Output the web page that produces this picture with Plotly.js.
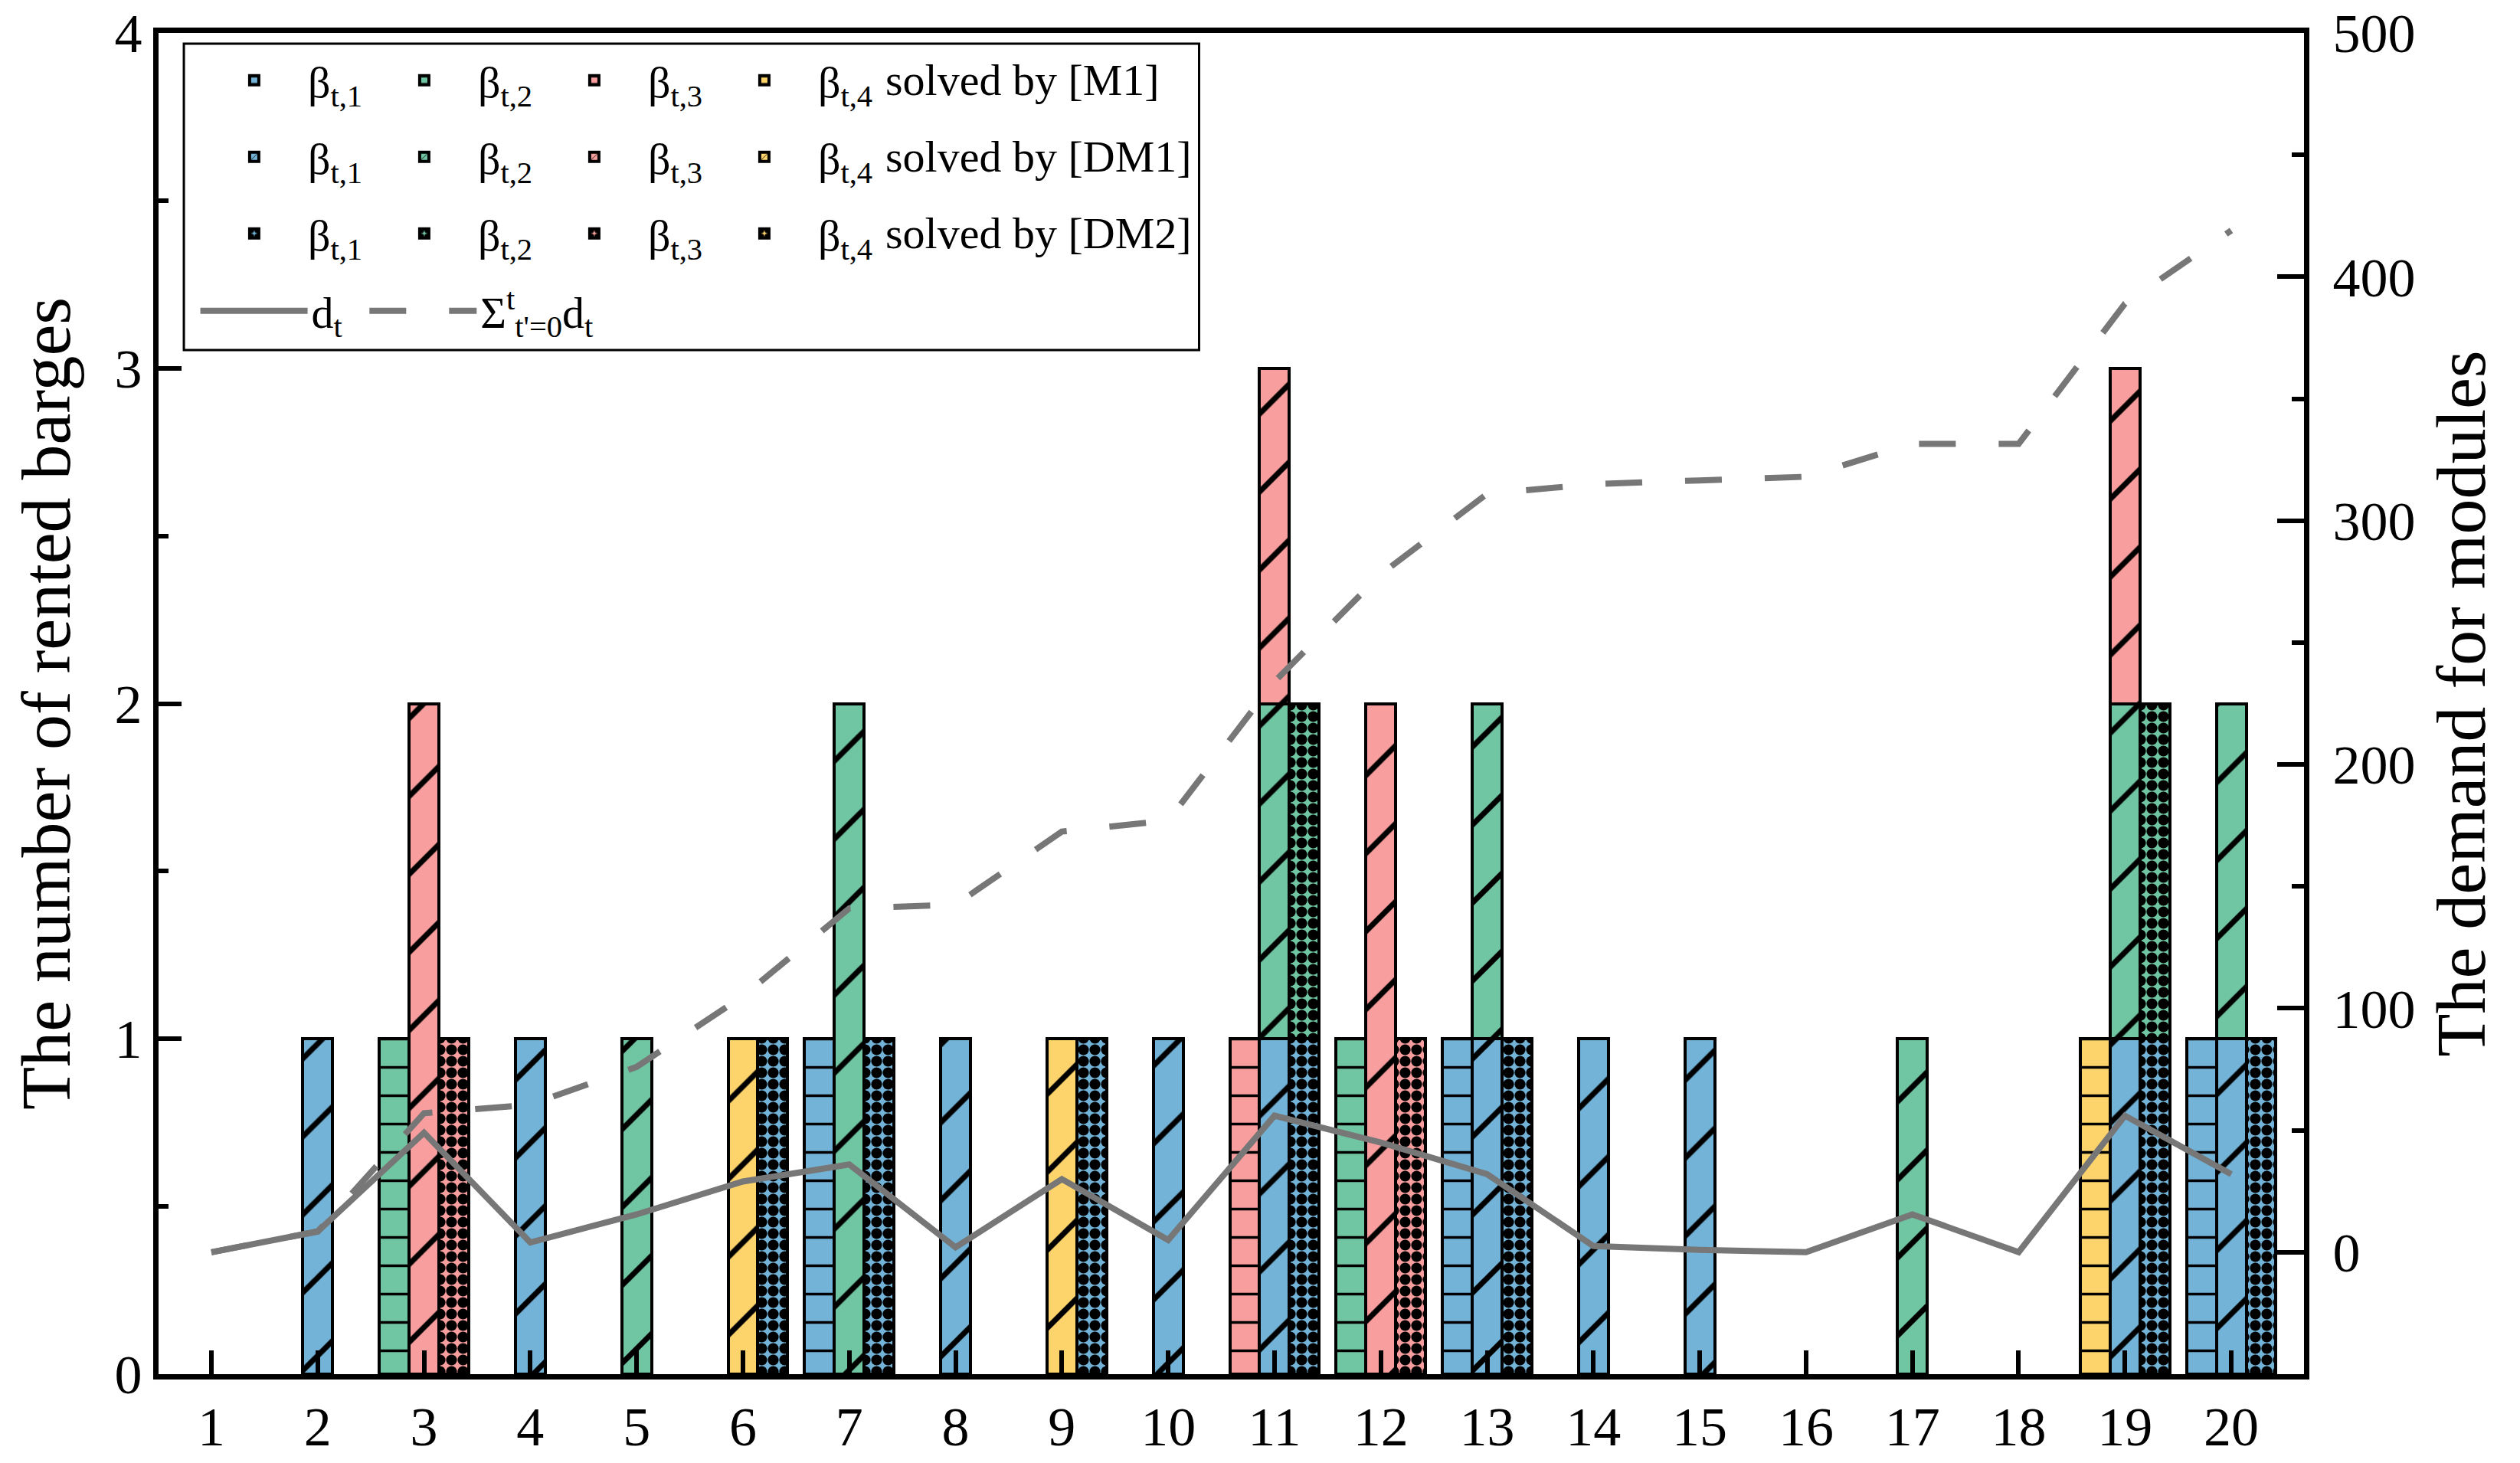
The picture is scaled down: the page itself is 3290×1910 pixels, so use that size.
<!DOCTYPE html>
<html>
<head>
<meta charset="utf-8">
<script src="https://cdn.plot.ly/plotly-3.0.1.min.js"></script>
<style>
  html, body { margin: 0; padding: 0; background: #fff; }
  #chart { width: 3290px; height: 1910px; }
</style>
</head>
<body>
<div id="chart"></div>
<script>
// time periods on the x axis
var periods = [1, 2, 3, 4, 5, 6, 7, 8, 9, 10, 11, 12, 13, 14, 15, 16, 17, 18, 19, 20];
var periodLabels = ['1', '2', '3', '4', '5', '6', '7', '8', '9', '10',
                    '11', '12', '13', '14', '15', '16', '17', '18', '19', '20'];

// rented barges per type, solved by [M1]
var m1Beta1 = [0, 0, 0, 0, 0, 0, 1, 0, 0, 0, 0, 0, 1, 0, 0, 0, 0, 0, 0, 1];
var m1Beta2 = [0, 0, 1, 0, 0, 0, 0, 0, 0, 0, 0, 1, 0, 0, 0, 0, 0, 0, 0, 0];
var m1Beta3 = [0, 0, 0, 0, 0, 0, 0, 0, 0, 0, 1, 0, 0, 0, 0, 0, 0, 0, 0, 0];
var m1Beta4 = [0, 0, 0, 0, 0, 0, 0, 0, 0, 0, 0, 0, 0, 0, 0, 0, 0, 0, 1, 0];

// solved by [DM1]
var dm1Beta1 = [0, 1, 0, 1, 0, 0, 0, 1, 0, 1, 1, 0, 1, 1, 1, 0, 0, 0, 1, 1];
var dm1Beta2 = [0, 0, 0, 0, 1, 0, 2, 0, 0, 0, 1, 0, 1, 0, 0, 0, 1, 0, 1, 1];
var dm1Beta3 = [0, 0, 2, 0, 0, 0, 0, 0, 0, 0, 1, 2, 0, 0, 0, 0, 0, 0, 1, 0];
var dm1Beta4 = [0, 0, 0, 0, 0, 1, 0, 0, 1, 0, 0, 0, 0, 0, 0, 0, 0, 0, 0, 0];

// solved by [DM2]
var dm2Beta1 = [0, 0, 0, 0, 0, 1, 1, 0, 1, 0, 1, 0, 1, 0, 0, 0, 0, 0, 1, 1];
var dm2Beta2 = [0, 0, 0, 0, 0, 0, 0, 0, 0, 0, 1, 0, 0, 0, 0, 0, 0, 0, 1, 0];
var dm2Beta3 = [0, 0, 1, 0, 0, 0, 0, 0, 0, 0, 0, 1, 0, 0, 0, 0, 0, 0, 0, 0];
var dm2Beta4 = [0, 0, 0, 0, 0, 0, 0, 0, 0, 0, 0, 0, 0, 0, 0, 0, 0, 0, 0, 0];

// demand for modules (right axis)
var demand = [0, 8.5, 49, 4, 15.5, 29, 36, 2, 30, 5, 56, 45, 32, 2.5, 1, 0, 15.5, 0, 56, 32];
var cumulativeDemand = [0, 8.5, 57, 60.5, 76, 105, 141, 142.5, 172.5, 177,
                        234, 278, 311, 315, 316.5, 318, 331.5, 331.5, 389, 419];

var betaNames = ['t,1', 't,2', 't,3', 't,4'];
var betaColors = ['#72b3d7', '#70c6a2', '#f99e9e', '#fdd46b'];

var methods = [
    {label: 'M1',  legend: 'legend',  shift: -0.28, values: [m1Beta1, m1Beta2, m1Beta3, m1Beta4],
     pattern: {shape: '-', size: 37, solidity: 0.1}},
    {label: 'DM1', legend: 'legend2', shift: 0,     values: [dm1Beta1, dm1Beta2, dm1Beta3, dm1Beta4],
     pattern: {shape: '/', size: 72, solidity: 0.1}},
    {label: 'DM2', legend: 'legend3', shift: 0.28,  values: [dm2Beta1, dm2Beta2, dm2Beta3, dm2Beta4],
     pattern: {shape: '.', size: 15, solidity: 0.7}}
];

var serif = 'Liberation Serif, Times New Roman, serif';
var plotlyData = [];

for(var m = 0; m < methods.length; m++)
{
    var method = methods[m];
    var xs = [];
    for(var i = 0; i < periods.length; i++)
    {
        xs.push(periods[i] + method.shift);
    }

    for(var b = 0; b < 4; b++)
    {
        // empty entries are left out so they leave no outline on the axis
        var ys = method.values[b].map(function(v) { return v === 0 ? null : v; });

        plotlyData.push({
            x: xs,
            y: ys,
            type: 'bar',
            width: 0.28,
            name: 'β<sub>' + betaNames[b] + '</sub>',
            legend: method.legend,
            marker: {
                color: betaColors[b],
                line: {color: '#000000', width: 4},
                pattern: {
                    shape: method.pattern.shape,
                    size: method.pattern.size,
                    solidity: method.pattern.solidity,
                    fgcolor: '#000000',
                    bgcolor: betaColors[b],
                    fillmode: 'replace'
                }
            },
            hoverinfo: 'skip'
        });
    }
}

plotlyData.push({
    x: periods,
    y: demand,
    yaxis: 'y2',
    type: 'scatter',
    mode: 'lines',
    name: 'd<sub>t</sub>',
    legend: 'legend4',
    line: {color: '#777777', width: 8},
    hoverinfo: 'skip'
});

plotlyData.push({
    x: periods,
    y: cumulativeDemand,
    yaxis: 'y2',
    type: 'scatter',
    mode: 'lines',
    name: 'Σ<sup>t</sup><sub>t\'=0</sub>d<sub>t</sub>',
    legend: 'legend5',
    line: {color: '#777777', width: 8, dash: '48px,56px'},
    hoverinfo: 'skip'
});

function legendRow(xPos, yPos, itemWidth, entryWidth)
{
    return {
        x: xPos,
        y: yPos,
        xanchor: 'left',
        yanchor: 'middle',
        orientation: 'h',
        bgcolor: 'rgba(0,0,0,0)',
        borderwidth: 0,
        font: {family: serif, size: 58, color: '#000000'},
        entrywidth: entryWidth,
        entrywidthmode: 'pixels',
        itemwidth: itemWidth,
        traceorder: 'normal'
    };
}

// legend rows, top to bottom (paper units)
var rowY = [0.9646, 0.9075, 0.8504, 0.7927];

// "solved by [..]" text that closes each bar legend row
var legendNotes = [];
for(var n = 0; n < methods.length; n++)
{
    legendNotes.push({
        xref: 'paper',
        yref: 'paper',
        x: 0.338,
        y: rowY[n],
        xanchor: 'left',
        yanchor: 'middle',
        showarrow: false,
        text: 'solved by [' + methods[n].label + ']',
        font: {family: serif, size: 58, color: '#000000'}
    });
}

var axisFont = {family: serif, size: 72, color: '#000000'};
var titleFont = {family: serif, size: 92, color: '#000000'};

var plotlyLayout = {
    width: 3290,
    height: 1910,
    paper_bgcolor: '#ffffff',
    plot_bgcolor: '#ffffff',
    font: {family: serif, color: '#000000'},
    margin: {l: 207, r: 282, t: 43, b: 116, pad: 0},
    barmode: 'stack',
    showlegend: true,
    legend: legendRow(0.0196, rowY[0], 130, 77),
    legend2: legendRow(0.0196, rowY[1], 130, 77),
    legend3: legendRow(0.0196, rowY[2], 130, 77),
    legend4: legendRow(0.0177, rowY[3], 140, 0),
    legend5: legendRow(0.0965, rowY[3], 140, 0),
    annotations: legendNotes,
    xaxis: {
        range: [0.503, 20.684],
        tickvals: periods,
        ticktext: periodLabels,
        ticks: 'inside',
        ticklen: 31,
        tickwidth: 6,
        tickcolor: '#000000',
        tickfont: axisFont,
        showline: true,
        linewidth: 7,
        linecolor: '#000000',
        mirror: true,
        showgrid: false,
        zeroline: false
    },
    yaxis: {
        range: [0, 4],
        tickvals: [0, 1, 2, 3, 4],
        ticks: 'inside',
        ticklen: 30,
        tickwidth: 6,
        tickcolor: '#000000',
        tickfont: axisFont,
        ticklabeloverflow: 'allow',
        minor: {ticks: 'inside', ticklen: 13, tickwidth: 6, tickcolor: '#000000', tick0: 0, dtick: 0.5},
        showline: true,
        linewidth: 7,
        linecolor: '#000000',
        showgrid: false,
        zeroline: false,
        title: {text: 'The number of rented barges', font: titleFont, standoff: 30}
    },
    yaxis2: {
        overlaying: 'y',
        side: 'right',
        range: [-50, 500],
        tickvals: [0, 100, 200, 300, 400, 500],
        ticks: 'inside',
        ticklen: 35,
        tickwidth: 6,
        tickcolor: '#000000',
        tickfont: axisFont,
        ticklabeloverflow: 'allow',
        ticklabelstandoff: 16,
        minor: {ticks: 'inside', ticklen: 16, tickwidth: 6, tickcolor: '#000000', tick0: 0, dtick: 50},
        showline: true,
        linewidth: 7,
        linecolor: '#000000',
        showgrid: false,
        zeroline: false,
        title: {text: 'The demand for modules', font: titleFont, standoff: 30}
    },
    shapes: [
        {
            type: 'rect',
            xref: 'paper',
            yref: 'paper',
            x0: 0.0118,
            x1: 0.485,
            y0: 0.7636,
            y1: 0.992,
            line: {color: '#000000', width: 3},
            fillcolor: 'rgba(0,0,0,0)'
        }
    ]
};

var plotlyConfig = {
    displayModeBar: false,
    staticPlot: true
};

Plotly.newPlot('chart', plotlyData, plotlyLayout, plotlyConfig);
</script>
</body>
</html>
